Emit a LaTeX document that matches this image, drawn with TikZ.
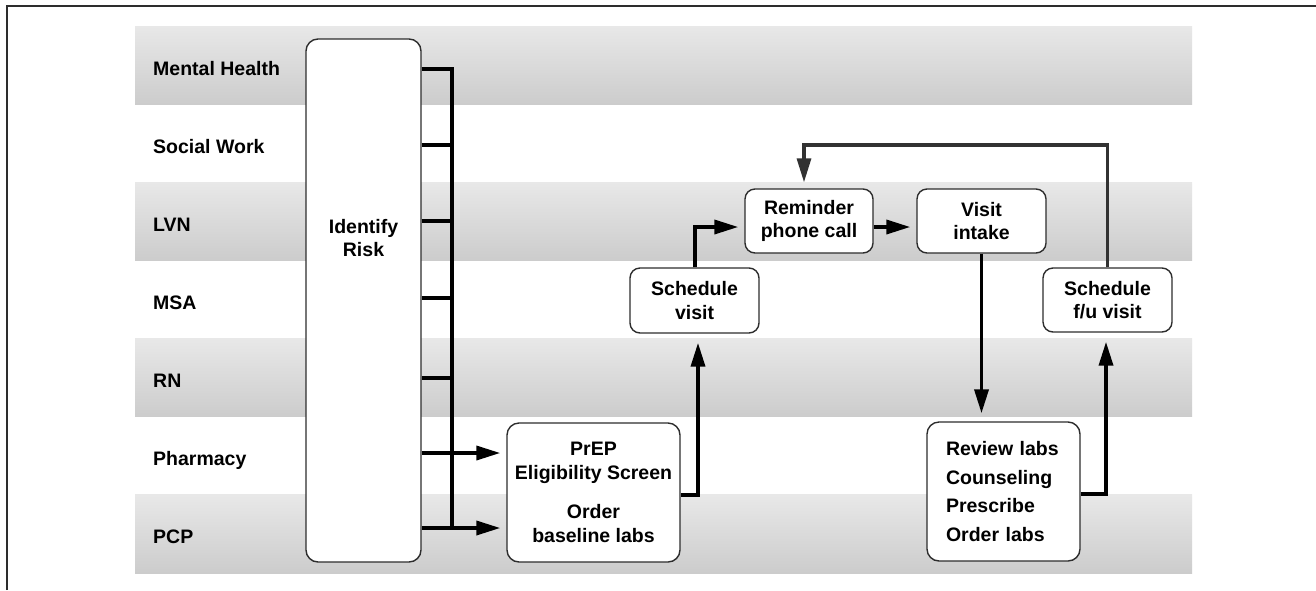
\documentclass[tikz,border=0pt]{standalone}
\usepackage{fontspec}
\setmainfont{Liberation Sans}
\usetikzlibrary{arrows.meta}
\definecolor{bandtop}{RGB}{232,232,232}
\definecolor{bandbot}{RGB}{204,204,204}
\definecolor{edgegray}{RGB}{45,45,45}
\definecolor{loopgray}{RGB}{50,50,50}
\begin{document}
\begin{tikzpicture}[x=1pt,y=-1pt,
  font=\fontsize{19.5}{23.5}\selectfont\bfseries,
  band/.style={top color=bandtop,bottom color=bandbot,draw=none},
  lanelabel/.style={anchor=base west,inner sep=0pt},
  procbox/.style={draw=edgegray,line width=1.4pt,rounded corners=10pt,fill=white,align=center,inner sep=0pt},
  flow/.style={line width=3.6pt,-{Triangle[length=24pt,width=14pt]},shorten >=6pt},
  upflow/.style={flow,shorten >=9pt},
  link/.style={line width=3.6pt},
  loopflow/.style={line width=3.2pt,draw=loopgray,-{Triangle[length=24pt,width=14pt]},shorten >=6pt}]

\fill[white] (0,0) rectangle (1316,590);
\useasboundingbox (0,0) rectangle (1316,590);

% frame
\draw[line width=1.5pt,edgegray] (7,590) -- (7,6) -- (1316,6);

% swimlane bands
\shade[band] (135,26) rectangle (1192,104.1);
\shade[band] (135,182.3) rectangle (1192,260.4);
\shade[band] (135,338.6) rectangle (1192,416.7);
\shade[band] (135,494.9) rectangle (1192,573);

% lane labels
\node[lanelabel] (lMH)  at (153,75)  {Mental Health};
\node[lanelabel] (lSW)  at (153,153) {Social Work};
\node[lanelabel] (lLVN) at (153,231) {LVN};
\node[lanelabel] (lMSA) at (153,309) {MSA};
\node[lanelabel] (lRN)  at (153,387) {RN};
\node[lanelabel] (lPh)  at (153,465) {Pharmacy};
\node[lanelabel] (lPCP) at (153,543) {PCP};

% process boxes
\node[procbox,rounded corners=12pt,minimum width=115,minimum height=523] (risk) at (363.5,300.5) {};
\node[inner sep=0pt,align=center] (risklabel) at (363.5,238) {Identify\\Risk};

\node[procbox,rounded corners=12pt,minimum width=173,minimum height=139,
      font=\fontsize{19.5}{24.5}\selectfont\bfseries] (prep) at (593.5,492.5)
      {PrEP\\Eligibility Screen\\[14pt]Order\\baseline labs};

\node[procbox,minimum width=129,minimum height=65] (sched) at (694.5,300.5) {Schedule\\visit};
\node[procbox,minimum width=128,minimum height=64] (rem) at (809,221) {Reminder\\phone call};
\node[procbox,minimum width=129,minimum height=64] (intake) at (981.5,221) {Visit\\intake};
\node[procbox,minimum width=129,minimum height=64] (fu) at (1107.5,300) {Schedule\\f/u visit};
\node[procbox,rounded corners=12pt,minimum width=153,minimum height=139,align=left,
      text width=115,inner xsep=19pt,
      font=\fontsize{19.5}{28.5}\selectfont\bfseries] (review) at (1003.5,491.5)
      {Review labs\\Counseling\\Prescribe\\Order labs};

% bus from Identify Risk
\coordinate (bt) at (452,69);
\coordinate (bb) at (452,528);
\coordinate (s1) at (452,145);
\coordinate (s2) at (452,221);
\coordinate (s3) at (452,298);
\coordinate (s4) at (452,378);
\coordinate (a1) at (452,453);

\draw[link] (risk.east |- bt) -- (bt) -- (bb);
\draw[link] (risk.east |- s1) -- (s1);
\draw[link] (risk.east |- s2) -- (s2);
\draw[link] (risk.east |- s3) -- (s3);
\draw[link] (risk.east |- s4) -- (s4);
\draw[flow] (risk.east |- a1) -- (prep.west |- a1);
\draw[flow] (risk.east |- bb) -- (prep.west |- bb);

% PrEP -> Schedule visit
\coordinate (c1) at (698,495);
\draw[upflow] (prep.east |- c1) -| (sched.south -| c1);

% Schedule visit -> Reminder
\coordinate (r1) at (695,227);
\draw[flow] (sched.north -| r1) |- (rem.west |- r1);

% Reminder -> Visit intake
\draw[flow] (rem.east |- r1) -- (intake.west |- r1);

% Visit intake -> Review
\draw[flow,shorten >=8pt] (intake.south) -- (review.north -| intake.south);

% Review -> Schedule f/u
\coordinate (c2) at (1106,494);
\draw[upflow] (review.east |- c2) -| (fu.south -| c2);

% Schedule f/u -> Reminder (loop)
\coordinate (lp) at (804,145);
\draw[loopflow] (fu.north) |- (lp) -- (rem.north -| lp);

\end{tikzpicture}
\end{document}
